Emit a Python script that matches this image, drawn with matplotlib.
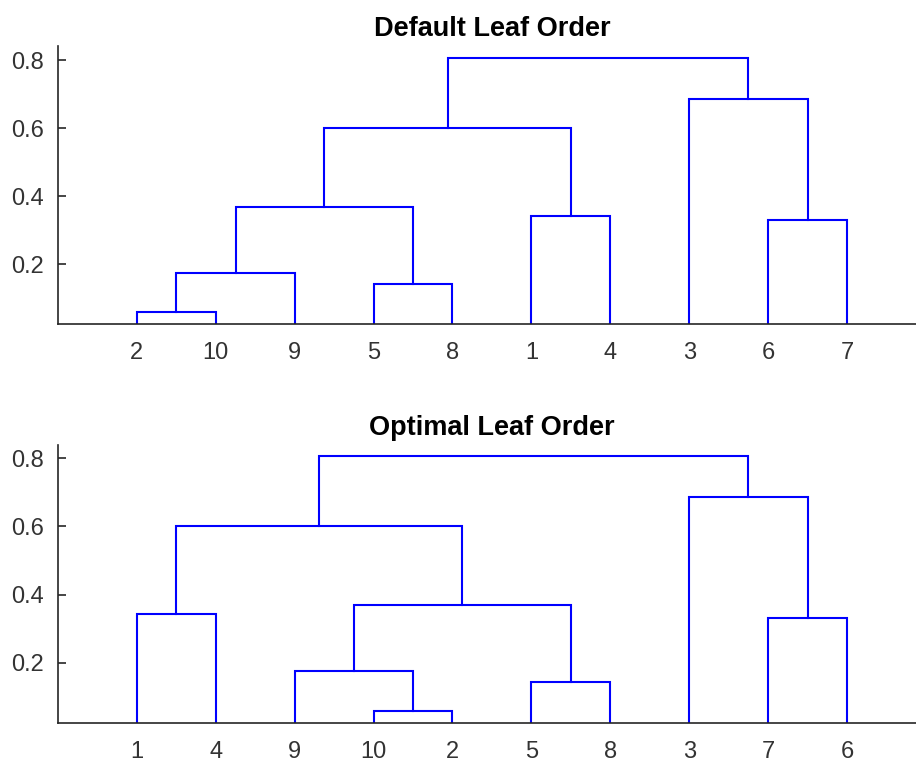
import matplotlib
matplotlib.use("Agg")
import matplotlib.pyplot as plt

plt.rcParams['font.family'] = ['Liberation Sans', 'DejaVu Sans']

# leaf orders of the two panels
default_order = ["2", "10", "9", "5", "8", "1", "4", "3", "6", "7"]
optimal_order = ["1", "4", "9", "10", "2", "5", "8", "3", "7", "6"]

# merges: (new node, left child, right child, height) - same tree, children swapped where needed
default_merges = [
    ("A", "2", "10", 0.058),
    ("B", "A", "9", 0.175),
    ("C", "5", "8", 0.142),
    ("D", "B", "C", 0.369),
    ("E", "1", "4", 0.342),
    ("F", "D", "E", 0.600),
    ("G", "6", "7", 0.331),
    ("H", "3", "G", 0.685),
    ("R", "F", "H", 0.808),
]
optimal_merges = [
    ("E", "1", "4", 0.342),
    ("A", "10", "2", 0.058),
    ("B", "9", "A", 0.175),
    ("C", "5", "8", 0.142),
    ("D", "B", "C", 0.369),
    ("F", "E", "D", 0.600),
    ("G", "7", "6", 0.331),
    ("H", "3", "G", 0.685),
    ("R", "F", "H", 0.808),
]

GRAY = (0.15, 0.15, 0.15)


def draw_dendro(ax, order, merges, ylim, title):
    xpos = {leaf: i + 1 for i, leaf in enumerate(order)}
    ypos = {leaf: 0.0 for leaf in order}
    for node, left, right, h in merges:
        xl, xr = xpos[left], xpos[right]
        ax.plot([xl, xl, xr, xr], [ypos[left], h, h, ypos[right]],
                color=(0, 0, 1), lw=1.5, solid_joinstyle='miter')
        xpos[node] = (xl + xr) / 2
        ypos[node] = h
    ax.set_xlim(0, 11)
    ax.set_ylim(*ylim)
    ax.set_xticks(range(1, len(order) + 1))
    ax.set_xticklabels(order)
    ax.set_yticks([0.2, 0.4, 0.6, 0.8])
    ax.set_yticklabels(["0.2", "0.4", "0.6", "0.8"])
    for s in ['top', 'right']:
        ax.spines[s].set_visible(False)
    for s in ['left', 'bottom']:
        ax.spines[s].set_color(GRAY)
        ax.spines[s].set_linewidth(1.2)
    ax.tick_params(axis='both', direction='in', length=6, width=1.2,
                   color=GRAY, labelcolor=(0.2, 0.2, 0.2), labelsize=17)
    ax.tick_params(axis='x', pad=13)
    ax.tick_params(axis='y', pad=10)
    ax.set_title(title, fontsize=19.5, fontweight='bold', pad=7)


fig = plt.figure(figsize=(9.16, 7.64), dpi=100)
ax1 = fig.add_axes([0.0633, 0.5759, 0.9475, 0.3639])
ax2 = fig.add_axes([0.0633, 0.0533, 0.9475, 0.3642])

draw_dendro(ax1, default_order, default_merges, (0.024, 0.842), "Default Leaf Order")
draw_dendro(ax2, optimal_order, optimal_merges, (0.022, 0.839), "Optimal Leaf Order")

fig.savefig("out.png", dpi=100)
